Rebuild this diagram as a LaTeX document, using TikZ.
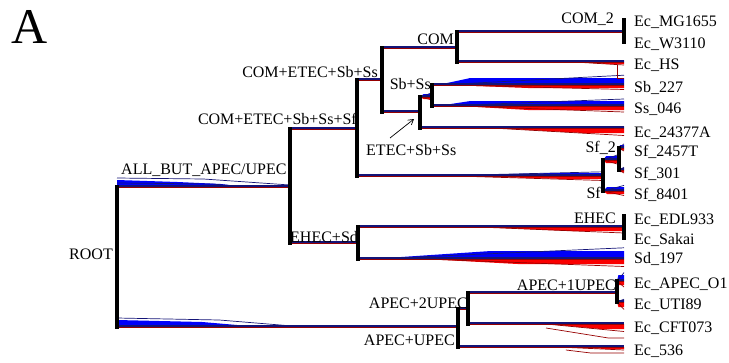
\documentclass[tikz,border=0pt]{standalone}
\usepackage{fontspec}
\setmainfont{Liberation Serif}
\usetikzlibrary{calc,arrows.meta}
\definecolor{navyc}{RGB}{20,20,120}
\definecolor{bluec}{RGB}{0,0,250}
\definecolor{redc}{RGB}{250,0,0}
\definecolor{dredc}{RGB}{150,0,0}
\tikzset{
  vert/.style={line width=3.2pt,line cap=rect,black},
  nl/.style={line width=1.8pt,navyc},
  rl/.style={line width=1.0pt,dredc},
  bw/.style={fill=bluec},
  rw/.style={fill=redc},
  thinnavy/.style={navyc,line width=0.7pt},
  thinred/.style={dredc,line width=0.7pt},
  lab/.style={inner sep=0pt,font=\fontsize{16}{18}\selectfont},
}
% #1 parent, #2 child, #3 blue thickness, #4 blue start, #5 blue full,
% #6 red thickness, #7 red start, #8 red full
\newcommand\tbr[8]{%
  \coordinate (#2-s) at (#1 |- #2);
  \fill[bw] ($(#2-s)!#4!(#2)$) -- ([yshift=#3pt]$(#2-s)!#5!(#2)$) -- ([yshift=#3pt]#2) -- (#2) -- cycle;
  \fill[rw] ($(#2-s)!#7!(#2)$) -- ([yshift=-#6pt]$(#2-s)!#8!(#2)$) -- ([yshift=-#6pt]#2) -- (#2) -- cycle;
  \draw[thinnavy] ($(#2-s)!#4!(#2)$) -- ([yshift={1.4*#3}]#2);
  \draw[thinred] ($(#2-s)!#7!(#2)$) -- ([yshift={-1.5*#6}]#2);
  \draw[rl] ([yshift=-0.8pt]#2-s) -- ([yshift=-0.8pt]#2);
  \draw[nl] ([yshift=0.8pt]#2-s) -- ([yshift=0.8pt]#2);
  \draw[vert] (#1) -- (#2-s);
}
\begin{document}
\begin{tikzpicture}[x=1pt,y=-1pt]
\useasboundingbox (0,0) rectangle (729,362);
% internal nodes
\coordinate (root) at (117,257);
\coordinate (allbut) at (290,187);
\coordinate (cesssf) at (357,129);
\coordinate (ehecsd) at (358,243);
\coordinate (cess) at (382,80);
\coordinate (sf) at (603,176);
\coordinate (com) at (457,48);
\coordinate (etec) at (420,112);
\coordinate (com2) at (624,32);
\coordinate (sbss) at (432,97);
\coordinate (sf2) at (619,160);
\coordinate (ehec) at (624,227);
\coordinate (apecupec) at (458,327);
\coordinate (apec2) at (468,309);
\coordinate (apec1) at (617,293);
% leaves
\coordinate (mg) at (624,20);
\coordinate (w3110) at (624,42);
\coordinate (ehs) at (624,62);
\coordinate (sb227) at (624,85);
\coordinate (ss046) at (624,106);
\coordinate (e24377) at (624,128);
\coordinate (sf2457) at (624,148);
\coordinate (sf301) at (624,170);
\coordinate (sf8401) at (624,191);
\coordinate (edl) at (624,216);
\coordinate (sakai) at (624,238);
\coordinate (sd197) at (624,259);
\coordinate (apeco1) at (624,281);
\coordinate (uti89) at (624,302);
\coordinate (cft073) at (624,324);
\coordinate (e536) at (624,347);

% root branches with decreasing wedges
\coordinate (allbut-s) at (root |- allbut);
\coordinate (apecupec-s) at (root |- apecupec);
\fill[bw] (allbut-s) -- ([yshift=7]allbut-s) -- ([yshift=5]$(allbut-s)!0.35!(allbut)$) -- ([yshift=3]$(allbut-s)!0.6!(allbut)$) -- ($(allbut-s)!0.75!(allbut)$) -- cycle;
\draw[thinnavy] ([yshift=9]allbut-s) -- ([yshift=8]$(allbut-s)!0.5!(allbut)$) -- ([yshift=2]allbut);
\draw[thinnavy] ([yshift=4]allbut-s) -- ([yshift=3]$(allbut-s)!0.55!(allbut)$) -- ($(allbut-s)!0.75!(allbut)$);
\fill[bw] (apecupec-s) -- ([yshift=7]apecupec-s) -- ([yshift=5]$(apecupec-s)!0.25!(apecupec)$) -- ($(apecupec-s)!0.42!(apecupec)$) -- cycle;
\draw[thinnavy] ([yshift=9]apecupec-s) -- ([yshift=7]$(apecupec-s)!0.3!(apecupec)$) -- ($(apecupec-s)!0.55!(apecupec)$);
\tbr{root}{allbut}{0}{0}{0}{0}{0}{0}
\tbr{root}{apecupec}{0}{0}{0}{0}{0}{0}

\tbr{allbut}{cesssf}{0}{0}{0}{0}{0}{0}
\tbr{allbut}{ehecsd}{0}{0}{0}{0}{0}{0}
\tbr{cesssf}{cess}{0}{0}{0}{0}{0}{0}
\tbr{cesssf}{sf}{3}{0.3}{0.8}{3}{0.4}{0.85}
\tbr{cess}{com}{0}{0}{0}{0}{0}{0}
\tbr{cess}{etec}{0}{0}{0}{0}{0}{0}
\tbr{com}{com2}{1}{0.55}{0.9}{0}{0}{0}
\tbr{com}{ehs}{1}{0.6}{0.9}{2}{0.7}{0.9}
\tbr{etec}{sbss}{3}{0}{0.3}{2}{0}{0.3}
\tbr{etec}{e24377}{1}{0.4}{0.8}{5}{0.35}{0.8}
\tbr{sbss}{sb227}{7}{0.03}{0.2}{3}{0.1}{0.5}
\tbr{sbss}{ss046}{5}{0.03}{0.2}{4}{0.15}{0.5}
\tbr{sf}{sf2}{4}{0}{0.2}{3}{0}{0.2}
\tbr{sf}{sf8401}{4}{0}{0.2}{3}{0}{0.2}
\tbr{sf2}{sf2457}{3}{0}{0.2}{2}{0}{0.2}
\tbr{sf2}{sf301}{2}{0}{0.2}{2}{0}{0.2}
\tbr{com2}{mg}{0}{0}{0}{0}{0}{0}
\tbr{com2}{w3110}{0}{0}{0}{0}{0}{0}
\tbr{ehecsd}{ehec}{0}{0}{0}{4}{0.45}{0.8}
\tbr{ehecsd}{sd197}{8}{0.05}{0.5}{5}{0.25}{0.6}
\tbr{ehec}{edl}{0}{0}{0}{0}{0}{0}
\tbr{ehec}{sakai}{0}{0}{0}{0}{0}{0}
\tbr{apecupec}{apec2}{0}{0}{0}{0}{0}{0}
\tbr{apecupec}{e536}{0}{0}{0}{2}{0.6}{0.9}
\tbr{apec2}{apec1}{0}{0}{0}{0}{0}{0}
\tbr{apec2}{cft073}{0}{0}{0}{5}{0.5}{0.85}
\tbr{apec1}{apeco1}{6}{0}{0.2}{4}{0}{0.2}
\tbr{apec1}{uti89}{2}{0}{0.2}{5}{0}{0.2}
\draw[thinred] ([yshift=-3]$(ehs)!0.04!(ehs-s)$) -| ([yshift=-16]$(ehs)!0.04!(ehs-s)$) -- ([yshift=-16]ehs);
\draw[thinred] ([yshift=-3]$(e536)!0.35!(e536-s)$) -- ([yshift=-6]$(e536)!0.2!(e536-s)$) -- ([yshift=-6]e536);
\draw[thinred] ([yshift=-4]$(cft073)!0.5!(cft073-s)$) -- ([yshift=-14]$(cft073)!0.1!(cft073-s)$) -- ([yshift=-14]cft073);

% internal labels
\node[inner sep=0pt,anchor=base west,font=\fontsize{50}{52}\selectfont] (ltitle) at (11,43) {A};
\node[lab,anchor=base east] (lcom2) at (614,23) {COM\_2};
\node[lab,anchor=base east] (lcom) at (454,44) {COM};
\node[lab,anchor=base east] (lcess) at (378,77) {COM+ETEC+Sb+Ss};
\node[lab,anchor=base east] (lsbss) at (431,89) {Sb+Ss};
\node[lab,anchor=base east] (lcesssf) at (357,124) {COM+ETEC+Sb+Ss+Sf};
\node[lab,anchor=base west] (letec) at (366,155) {ETEC+Sb+Ss};
\node[lab,anchor=base west] (lallbut) at (121,174) {ALL\_BUT\_APEC/UPEC};
\node[lab,anchor=base east] (lsf2) at (616,152) {Sf\_2};
\node[lab,anchor=base east] (lsf) at (601,198) {Sf};
\node[lab,anchor=base east] (lehec) at (616,223) {EHEC};
\node[lab,anchor=base west] (lehecsd) at (290,242) {EHEC+Sd};
\node[lab,anchor=base east] (lroot) at (113,259) {ROOT};
\node[lab,anchor=base east] (lapec1) at (616,290) {APEC+1UPEC};
\node[lab,anchor=base east] (lapec2) at (468,308) {APEC+2UPEC};
\node[lab,anchor=base east] (lapecupec) at (455,345) {APEC+UPEC};
\coordinate (arra) at (390,138);
\coordinate (arrb) at (414,119);
\draw[-{Straight Barb[length=5pt,width=6pt]},line width=0.7pt] (arra) -- (arrb);

% leaf labels
\node[lab,anchor=base west] (tmg) at (634,26) {Ec\_MG1655};
\node[lab,anchor=base west] (tw) at (634,48) {Ec\_W3110};
\node[lab,anchor=base west] (ths) at (634,69) {Ec\_HS};
\node[lab,anchor=base west] (tsb) at (634,92) {Sb\_227};
\node[lab,anchor=base west] (tss) at (634,113) {Ss\_046};
\node[lab,anchor=base west] (t243) at (634,137) {Ec\_24377A};
\node[lab,anchor=base west] (tsf1) at (634,156) {Sf\_2457T};
\node[lab,anchor=base west] (tsf2) at (634,178) {Sf\_301};
\node[lab,anchor=base west] (tsf3) at (634,199) {Sf\_8401};
\node[lab,anchor=base west] (tedl) at (634,224) {Ec\_EDL933};
\node[lab,anchor=base west] (tsak) at (634,244) {Ec\_Sakai};
\node[lab,anchor=base west] (tsd) at (634,263) {Sd\_197};
\node[lab,anchor=base west] (tapec) at (634,288) {Ec\_APEC\_O1};
\node[lab,anchor=base west] (tuti) at (634,309) {Ec\_UTI89};
\node[lab,anchor=base west] (tcft) at (634,332) {Ec\_CFT073};
\node[lab,anchor=base west] (t536) at (634,355) {Ec\_536};
\end{tikzpicture}
\end{document}
